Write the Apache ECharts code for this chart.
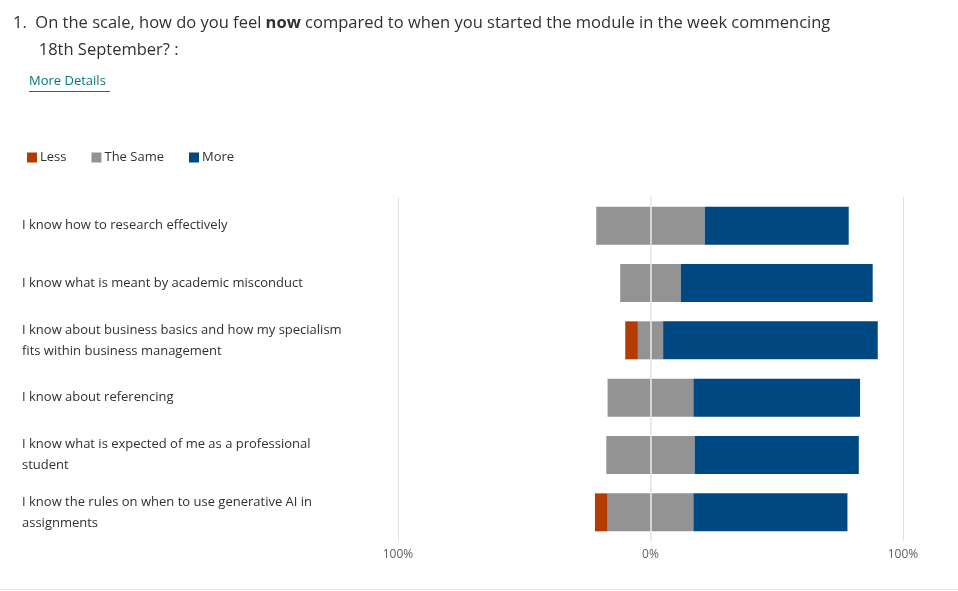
<!DOCTYPE html>
<html>
<head>
<meta charset="utf-8">
<script src="https://cdn.jsdelivr.net/npm/echarts@6/dist/echarts.min.js"></script>
<style>
  html, body { margin: 0; padding: 0; background: #fff; }
  #chart { width: 958px; height: 591px; }
</style>
</head>
<body>
<div id="chart"></div>
<script>
var categories = [
    "I know how to research effectively",
    "I know what is meant by academic misconduct",
    "I know about business basics and how my specialism\nfits within business management",
    "I know about referencing",
    "I know what is expected of me as a professional\nstudent",
    "I know the rules on when to use generative AI in\nassignments"
];
var lessValues = [0, 0, 5, 0, 0, 5];
var sameValues = [43, 24, 10, 34, 35, 34];
var moreValues = [57, 76, 85, 66, 65, 61];
var tickLabels = {"-100": "100%", "0": "0%", "100": "100%"};

var chart = echarts.init(document.getElementById('chart'));
var font = "'Open Sans', 'Noto Sans', sans-serif";

// the same-answers are split half each side of 0
var sameLeft = sameValues.map(function (v) { return -v / 2; });
var sameRight = sameValues.map(function (v) { return v / 2; });
var lessLeft = lessValues.map(function (v) { return -v; });

var option = {
    backgroundColor: '#fff',
    textStyle: { fontFamily: font },
    title: {
        text: '1.  On the scale, how do you feel {b|now} compared to when you started the module in the week commencing\n      18th September? :',
        left: 8, top: 5,
        textStyle: {
            fontFamily: font, fontSize: 16.5, fontWeight: 'normal', color: '#323130', lineHeight: 27,
            rich: { b: { fontFamily: font, fontSize: 16.5, fontWeight: 'bold', color: '#323130' } }
        }
    },
    graphic: [
        { type: 'text', left: 29, top: 75, style: { text: 'More Details', fill: '#03787c', font: '13px ' + font } },
        { type: 'rect', left: 29, top: 91, shape: { width: 81, height: 1 }, style: { fill: '#03787c' } },
        { type: 'rect', left: 0, top: 589, shape: { width: 958, height: 1 }, style: { fill: '#e1e1e1' } }
    ],
    legend: {
        left: 22, top: 146, itemWidth: 10, itemHeight: 10, itemGap: 25, icon: 'rect',
        data: ['Less', 'The Same', 'More'],
        textStyle: { color: '#323130', fontSize: 13, fontFamily: font, padding: [0, 0, 0, -2] }
    },
    grid: { left: 398, right: 55, top: 197, bottom: 50, containLabel: false },
    xAxis: {
        type: 'value', min: -100, max: 100, interval: 100,
        axisLine: { show: false }, axisTick: { show: false },
        splitLine: { show: true, lineStyle: { color: '#e1e1e1' } },
        axisLabel: { color: '#605e5c', fontSize: 12, margin: 8, formatter: function (v) { return tickLabels[v]; } }
    },
    yAxis: {
        type: 'category', data: categories, inverse: true,
        axisLine: { show: true, lineStyle: { color: '#e1e1e1' } }, axisTick: { show: false },
        axisLabel: { align: 'left', margin: 376, color: '#323130', fontSize: 13, lineHeight: 21, fontFamily: font }
    },
    series: [
        { name: 'The Same', type: 'bar', stack: 'a', barWidth: 38, data: sameLeft, itemStyle: { color: '#939393' }, animation: false,
          markLine: { silent: true, symbol: 'none', label: { show: false }, lineStyle: { color: '#e8e8e8', type: 'solid', width: 1.5 }, data: [{ xAxis: 0 }], z: 10 } },
        { name: 'Less', type: 'bar', stack: 'a', barWidth: 38, data: lessLeft, itemStyle: { color: '#b43b02' }, animation: false },
        { name: 'The Same', type: 'bar', stack: 'a', barWidth: 38, data: sameRight, itemStyle: { color: '#939393' }, animation: false },
        { name: 'More', type: 'bar', stack: 'a', barWidth: 38, data: moreValues, itemStyle: { color: '#004881' }, animation: false }
    ]
};
chart.setOption(option);
</script>
</body>
</html>
